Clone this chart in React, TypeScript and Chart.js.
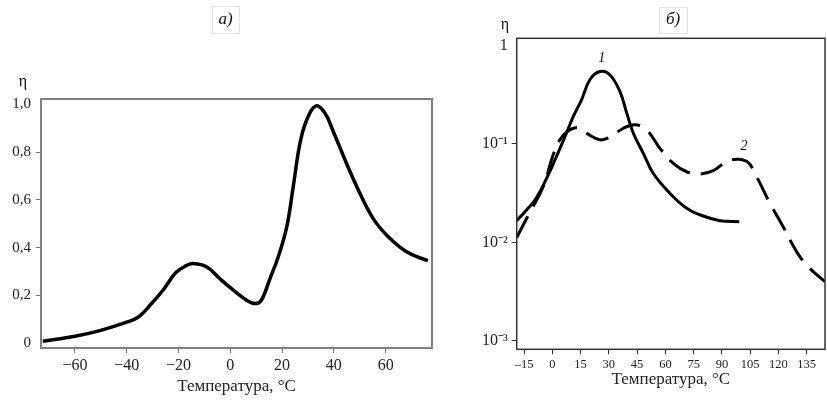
import React, { useEffect, useRef } from 'react';
import { Chart, registerables } from 'chart.js';

Chart.register(...registerables);

const FONT = "'Liberation Serif', 'Times New Roman', serif";

// panel a) — linear scale
const tempA = [-72.4, -60, -50, -40, -35.5, -31, -26, -21, -17, -14.3, -9, -4, 1.2, 6.3, 9.5, 12, 15.3, 18.5, 21.8, 24.3, 26.9, 29.5, 33.1, 36.6, 39.8, 44.9, 50.1, 55.2, 60.4, 65.5, 70, 76.3];
const etaA = [0.008, 0.029, 0.054, 0.088, 0.11, 0.159, 0.222, 0.296, 0.325, 0.334, 0.319, 0.27, 0.222, 0.18, 0.166, 0.18, 0.27, 0.361, 0.487, 0.655, 0.837, 0.935, 0.994, 0.963, 0.886, 0.753, 0.627, 0.522, 0.452, 0.403, 0.372, 0.346];
const xTicksA = [-60, -40, -20, 0, 20, 40, 60];
const yTicksA = [0, 0.2, 0.4, 0.6, 0.8, 1.0];

// panel б) — log scale, curves 1 and 2
const tempB1 = [-18.9, -14.5, -9.2, -3.9, 1.4, 6.7, 11.1, 15.5, 20, 25.3, 30.6, 35.9, 39.5, 43, 48.3, 53.6, 62.4, 71.3, 80.1, 89, 99.2];
const etaB1 = [0.0166, 0.0205, 0.0269, 0.0413, 0.0686, 0.118, 0.189, 0.28, 0.45, 0.542, 0.501, 0.339, 0.205, 0.128, 0.08, 0.05, 0.0315, 0.0222, 0.0185, 0.0166, 0.0162];
const tempB2 = [-18.9, -12.7, -4.9, 0.4, 4, 7.8, 12.9, 18.2, 25.3, 30.6, 37.7, 43.9, 50.1, 57.1, 64.2, 71.3, 78.4, 85.4, 92.5, 98.7, 104, 108.4, 115.5, 122.5, 129.7, 135.8, 144.7];
const etaB2 = [0.0112, 0.0189, 0.0365, 0.077, 0.11, 0.133, 0.146, 0.128, 0.11, 0.117, 0.144, 0.156, 0.138, 0.09, 0.0635, 0.0521, 0.0494, 0.0534, 0.066, 0.0697, 0.0644, 0.0465, 0.0249, 0.0144, 0.008, 0.00565, 0.00398];
const xTicksB = [-15, 0, 15, 30, 45, 60, 75, 90, 105, 120, 135];
const yTicksB = [0.001, 0.01, 0.1, 1];
const yLabelsB = ['10⁻³', '10⁻²', '10⁻¹', '1'];
const curveLabels = [
  { text: '1', t: 26.2, eta: 0.74 },
  { text: '2', t: 101.7, eta: 0.094 },
];

const axisTitle = 'Температура, °C';

const decor = (cfg: any) => ({
  id: 'decor',
  afterDraw(chart: any) {
    const { ctx, chartArea: a } = chart;
    ctx.save();
    ctx.strokeStyle = cfg.frameColor;
    ctx.lineWidth = cfg.frameWidth;
    ctx.strokeRect(a.left, a.top, a.right - a.left, a.bottom - a.top);

    // little boxed panel title
    const b = cfg.box;
    ctx.strokeStyle = '#e3e3e3';
    ctx.lineWidth = 1;
    ctx.strokeRect(b.x + 0.5, b.y + 0.5, b.w, b.h);
    ctx.fillStyle = '#111';
    ctx.textAlign = 'center';
    ctx.textBaseline = 'middle';
    ctx.font = `italic 17px ${FONT}`;
    ctx.fillText(cfg.title, b.x + b.w / 2, b.y + b.h / 2);

    ctx.font = `16px ${FONT}`;
    ctx.fillText('η', cfg.eta.x, cfg.eta.y);

    ctx.font = `italic 14px ${FONT}`;
    for (const l of cfg.labels || []) {
      const px = chart.scales.x.getPixelForValue(l.t);
      const py = chart.scales.y.getPixelForValue(l.eta);
      ctx.fillText(l.text, px, py);
    }
    ctx.restore();
  },
});

const pts = (xs: number[], ys: number[]) => xs.map((x, i) => ({ x, y: ys[i] }));

const minus = (v: number, sign: string) => (v < 0 ? sign + Math.abs(v) : String(v));

function configA(): any {
  return {
    type: 'line',
    data: {
      datasets: [
        {
          data: pts(tempA, etaA),
          borderColor: '#000',
          borderWidth: 3.5,
          pointRadius: 0,
          tension: 0.4,
          fill: false,
        },
      ],
    },
    options: {
      responsive: false,
      animation: false,
      events: [],
      layout: { padding: { top: 99, right: 8, left: 0, bottom: 0 } },
      plugins: { legend: { display: false }, tooltip: { enabled: false } },
      scales: {
        x: {
          type: 'linear',
          min: -73.1,
          max: 77.9,
          afterBuildTicks: (s: any) => { s.ticks = xTicksA.map((value) => ({ value })); },
          afterFit: (s: any) => { s.height = 59; },
          border: { display: false },
          grid: { drawOnChartArea: false, tickLength: 5, color: '#777' },
          ticks: {
            autoSkip: false,
            maxRotation: 0,
            padding: 3,
            color: '#222',
            font: { size: 16 },
            callback: (v: number) => minus(v, '−'),
          },
          title: {
            display: true,
            text: axisTitle,
            color: '#222',
            font: { size: 17 },
            padding: { top: 0, bottom: 10 },
          },
        },
        y: {
          type: 'linear',
          min: -0.02,
          max: 1.023,
          afterBuildTicks: (s: any) => { s.ticks = yTicksA.map((value) => ({ value })); },
          afterFit: (s: any) => { s.width = 41; },
          border: { display: false },
          grid: {
            drawOnChartArea: false,
            tickLength: 5,
            color: (c: any) => (c.tick && (c.tick.value === 0 || c.tick.value === 1) ? 'rgba(0,0,0,0)' : '#777'),
          },
          ticks: {
            padding: 5,
            color: '#222',
            font: { size: 15 },
            callback: (v: number) => (v === 0 ? '0' : v.toFixed(1).replace('.', ',')),
          },
        },
      },
    },
    plugins: [
      decor({
        frameColor: '#808080',
        frameWidth: 2,
        title: 'а)',
        box: { x: 212, y: 6, w: 27, h: 27 },
        eta: { x: 23, y: 82 },
      }),
    ],
  };
}

function configB(): any {
  return {
    type: 'line',
    data: {
      datasets: [
        {
          data: pts(tempB1, etaB1),
          borderColor: '#000',
          borderWidth: 3,
          pointRadius: 0,
          tension: 0.4,
          fill: false,
        },
        {
          data: pts(tempB2, etaB2),
          borderColor: '#000',
          borderWidth: 3,
          borderDash: [24, 11],
          pointRadius: 0,
          tension: 0.4,
          fill: false,
        },
      ],
    },
    options: {
      responsive: false,
      animation: false,
      events: [],
      layout: { padding: { top: 38.3, right: 2, left: 0, bottom: 0 } },
      plugins: { legend: { display: false }, tooltip: { enabled: false } },
      scales: {
        x: {
          type: 'linear',
          min: -18.9,
          max: 144.7,
          afterBuildTicks: (s: any) => { s.ticks = xTicksB.map((value) => ({ value })); },
          afterFit: (s: any) => { s.height = 57.7; },
          border: { display: false },
          grid: { drawOnChartArea: false, tickLength: 5, color: '#333' },
          ticks: {
            autoSkip: false,
            maxRotation: 0,
            padding: 3,
            color: '#222',
            font: { size: 12.5 },
            callback: (v: number) => minus(v, '–'),
          },
          title: {
            display: true,
            text: axisTitle,
            color: '#222',
            font: { size: 17 },
            padding: { top: 0, bottom: 17 },
          },
        },
        y: {
          type: 'logarithmic',
          min: 0.00082,
          max: 1.18,
          afterBuildTicks: (s: any) => { s.ticks = yTicksB.map((value) => ({ value })); },
          afterFit: (s: any) => { s.width = 76.7; },
          border: { display: false },
          grid: {
            drawOnChartArea: false,
            tickLength: 5,
            color: (c: any) => (c.tick && c.tick.value === 1 ? 'rgba(0,0,0,0)' : '#333'),
          },
          ticks: {
            padding: 4,
            color: '#222',
            font: { size: 16 },
            callback: (v: number) => yLabelsB[yTicksB.indexOf(v)] ?? '',
          },
        },
      },
    },
    plugins: [
      decor({
        frameColor: '#333',
        frameWidth: 1.5,
        title: 'б)',
        box: { x: 219, y: 7, w: 28, h: 26 },
        eta: { x: 65, y: 25 },
        labels: curveLabels,
      }),
    ],
  };
}

function Panel({ width, height, left, make }: { width: number; height: number; left: number; make: () => any }) {
  const ref = useRef<HTMLCanvasElement>(null);

  useEffect(() => {
    const chart = new Chart(ref.current!, make());
    return () => {
      chart.destroy();
    };
  }, [make]);

  return (
    <canvas
      ref={ref}
      width={width}
      height={height}
      style={{ position: 'absolute', left, top: 0, width, height }}
    />
  );
}

Chart.defaults.font.family = FONT;
Chart.defaults.color = '#222';

export default function App() {
  return (
    <div style={{ position: 'fixed', left: 0, top: 0, width: 827, height: 407, background: '#fff' }}>
      <Panel width={440} height={407} left={0} make={configA} />
      <Panel width={387} height={407} left={440} make={configB} />
    </div>
  );
}
